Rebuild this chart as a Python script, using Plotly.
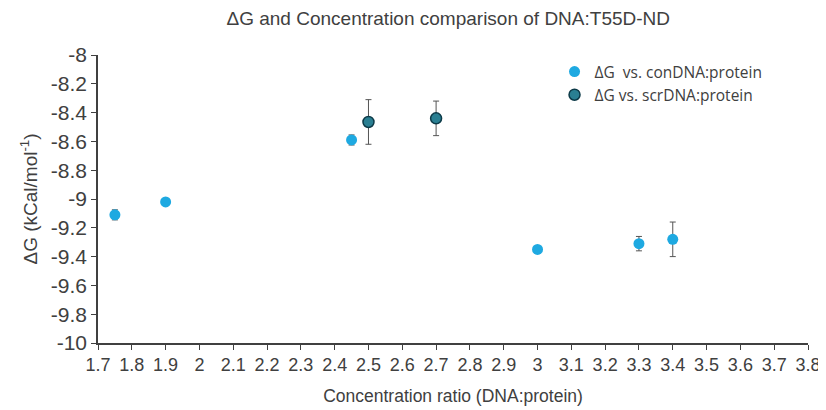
import plotly.graph_objects as go

con_x = [1.75, 1.9, 2.45, 3.0, 3.3, 3.4]
con_y = [-9.11, -9.02, -8.59, -9.35, -9.31, -9.28]
con_err = [0.035, 0.0, 0.035, 0.0, 0.05, 0.12]

scr_x = [2.5, 2.7]
scr_y = [-8.465, -8.44]
scr_err = [0.155, 0.12]

x_ticks = [round(1.7 + 0.1 * i, 1) for i in range(22)]
x_labels = [("%g" % v) for v in x_ticks]
y_ticks = [round(-10 + 0.2 * i, 1) for i in range(11)]
y_labels = [("%g" % v) for v in y_ticks]

fig = go.Figure()
fig.add_trace(go.Scatter(
    x=con_x, y=con_y, mode="markers", name="ΔG  vs. conDNA:protein",
    marker=dict(color="#1ea9e1", size=11, line=dict(width=0)),
    error_y=dict(type="data", array=con_err, color="#555555", thickness=1, width=3),
))
fig.add_trace(go.Scatter(
    x=scr_x, y=scr_y, mode="markers", name="ΔG vs. scrDNA:protein",
    marker=dict(color="#2a7f92", size=11, line=dict(width=1.5, color="#0d3a48")),
    error_y=dict(type="data", array=scr_err, color="#555555", thickness=1, width=3),
))

fig.update_layout(
    width=826, height=410,
    margin=dict(l=90, r=26, t=47, b=75),
    paper_bgcolor="white", plot_bgcolor="white",
    font=dict(family="Liberation Sans, Arial, sans-serif", color="#404040"),
    title=dict(text="ΔG and Concentration comparison of DNA:T55D-ND",
               x=0.533, xanchor="center", y=0.975, yanchor="middle",
               font=dict(size=19, color="#404040")),
    showlegend=True,
    legend=dict(x=0.643, y=1.0, xanchor="left", yanchor="top",
                bgcolor="rgba(0,0,0,0)", itemsizing="trace", tracegroupgap=0,
                font=dict(family="Open Sans, sans-serif", size=15.5, color="#404040")),
)
fig.update_xaxes(
    range=[1.7, 3.8], tickmode="array", tickvals=x_ticks, ticktext=x_labels,
    ticks="outside", ticklen=5, tickcolor="#404040", showline=True,
    linecolor="#404040", linewidth=1.5, showgrid=False, zeroline=False,
    tickfont=dict(size=18, color="#404040"),
    title=dict(text="Concentration ratio (DNA:protein)", font=dict(size=17.5, color="#404040"), standoff=15),
)
fig.update_yaxes(
    range=[-10, -8], tickmode="array", tickvals=y_ticks, ticktext=y_labels,
    ticks="outside", ticklen=5, tickcolor="#404040", showline=True,
    linecolor="#404040", linewidth=1.5, showgrid=False, zeroline=False,
    tickfont=dict(size=21, color="#404040"),
    title=dict(text="ΔG (kCal/mol<sup>-1</sup>)", font=dict(size=19, color="#404040"), standoff=8),
)

fig.write_html("out.html")
